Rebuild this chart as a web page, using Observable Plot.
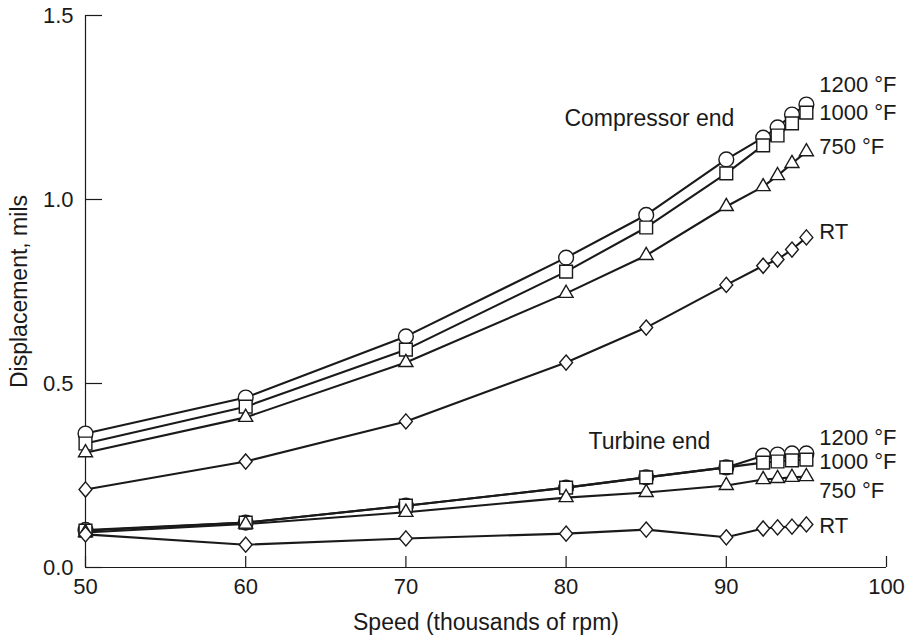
<!DOCTYPE html>
<html>
<head>
<meta charset="utf-8">
<script src="https://cdn.jsdelivr.net/npm/d3@7"></script>
<script src="https://cdn.jsdelivr.net/npm/@observablehq/plot@0.6"></script>
<style>
  html, body { margin: 0; padding: 0; background: #fff; }
  #chart svg { display: block; }
</style>
</head>
<body>
<div id="chart"></div>
<script>
// ---- data ----
const speed = [50, 60, 70, 80, 85, 90, 92.3, 93.2, 94.1, 95];

const comp1200 = [0.364, 0.462, 0.628, 0.842, 0.958, 1.109, 1.168, 1.196, 1.231, 1.258];
const comp1000 = [0.337, 0.437, 0.592, 0.804, 0.924, 1.071, 1.147, 1.174, 1.207, 1.236];
const comp750  = [0.312, 0.408, 0.557, 0.745, 0.848, 0.981, 1.035, 1.065, 1.098, 1.130];
const compRT   = [0.212, 0.288, 0.397, 0.557, 0.652, 0.768, 0.820, 0.837, 0.864, 0.897];

const turb1200 = [0.102, 0.122, 0.168, 0.217, 0.245, 0.272, 0.304, 0.307, 0.310, 0.310];
const turb1000 = [0.100, 0.122, 0.168, 0.217, 0.245, 0.272, 0.285, 0.288, 0.291, 0.293];
const turb750  = [0.095, 0.118, 0.150, 0.190, 0.204, 0.223, 0.239, 0.242, 0.245, 0.247];
const turbRT   = [0.090, 0.062, 0.079, 0.092, 0.103, 0.082, 0.106, 0.109, 0.111, 0.117];

const temps = ["1200", "1000", "750", "RT"];
const xTicks = [50, 60, 70, 80, 90, 100];
const yTicks = [0, 0.5, 1.0, 1.5];

// annotation texts (positions in data units)
const seriesLabels = [
  {text: "1200 °F", x: 95.8, y: 1.31},
  {text: "1000 °F", x: 95.8, y: 1.234},
  {text: "750 °F",  x: 95.8, y: 1.144},
  {text: "RT",      x: 95.8, y: 0.913},
  {text: "1200 °F", x: 95.8, y: 0.351},
  {text: "1000 °F", x: 95.8, y: 0.288},
  {text: "750 °F",  x: 95.8, y: 0.209},
  {text: "RT",      x: 95.8, y: 0.114}
];
const groupLabels = [
  {text: "Compressor end", x: 85.2, y: 1.22},
  {text: "Turbine end",    x: 85.2, y: 0.341}
];

// ---- build table ----
const seriesDefs = [
  {end: "Compressor", temp: "1200", values: comp1200},
  {end: "Compressor", temp: "1000", values: comp1000},
  {end: "Compressor", temp: "750",  values: comp750},
  {end: "Compressor", temp: "RT",   values: compRT},
  {end: "Turbine", temp: "RT",   values: turbRT},
  {end: "Turbine", temp: "750",  values: turb750},
  {end: "Turbine", temp: "1200", values: turb1200},
  {end: "Turbine", temp: "1000", values: turb1000}
];
const rows = seriesDefs.flatMap(s => s.values.map((v, i) => ({
  series: s.end + " " + s.temp, end: s.end, temp: s.temp, speed: speed[i], value: v
})));

const diamondSym = {
  draw(context, size) {
    const h = Math.sqrt(size) * 0.7;
    const w = h * 0.85;
    context.moveTo(0, -h);
    context.lineTo(w, 0);
    context.lineTo(0, h);
    context.lineTo(-w, 0);
    context.closePath();
  }
};
const symbolFor = {"1200": "circle", "1000": "square", "750": "triangle", "RT": diamondSym};
const radiusFor = {"1200": 7.4, "1000": 7.2, "750": 5.2, "RT": 6.1};

const font = "'Liberation Sans', Arial, Helvetica, sans-serif";
const ink = "#1a1a1a";

const dotMarks = temps.map(t => Plot.dot(rows.filter(d => d.temp === t), {
  x: "speed", y: "value", symbol: () => symbolFor[t], r: radiusFor[t],
  fill: "white", stroke: ink, strokeWidth: 1.4
}));

const chart = Plot.plot({
  width: 912,
  height: 639,
  marginLeft: 85,
  marginRight: 26,
  marginTop: 15,
  marginBottom: 72,
  style: {fontFamily: font, fontSize: "22px", color: ink, background: "white"},
  x: {domain: [50, 100], label: null},
  y: {domain: [0, 1.5], label: null},
  symbol: {type: "identity"},
  marks: [
    Plot.ruleX([50], {stroke: ink, strokeWidth: 1.2}),
    Plot.ruleY([0], {stroke: ink, strokeWidth: 1.2}),
    Plot.axisX({ticks: xTicks, tickSize: -11, text: null, stroke: ink, strokeWidth: 1.2}),
    Plot.axisX({ticks: xTicks, tickSize: 0, tickPadding: 11, tickFormat: d => String(d), fontSize: 22, fill: ink,
      label: null}),
    Plot.axisY({ticks: yTicks, tickSize: -17, text: null, stroke: ink, strokeWidth: 1.2}),
    Plot.axisY({ticks: yTicks, tickSize: 0, tickPadding: 12, tickFormat: d => d.toFixed(1), fontSize: 22, fill: ink,
      label: null}),
    Plot.text(["Speed (thousands of rpm)"], {frameAnchor: "bottom", dy: 62, text: d => d, fontSize: 23, fill: ink}),
    Plot.text(["Displacement, mils"], {frameAnchor: "left", textAnchor: "middle", dx: -66, rotate: -90, text: d => d, fontSize: 23, fill: ink}),
    Plot.line(rows, {x: "speed", y: "value", z: "series", stroke: ink, strokeWidth: 2.1}),
    ...dotMarks,
    Plot.text(seriesLabels, {x: "x", y: "y", text: "text", textAnchor: "start", fontSize: 22, fill: ink}),
    Plot.text(groupLabels, {x: "x", y: "y", text: "text", textAnchor: "middle", fontSize: 23, fill: ink})
  ]
});
document.getElementById("chart").append(chart);
</script>
</body>
</html>
